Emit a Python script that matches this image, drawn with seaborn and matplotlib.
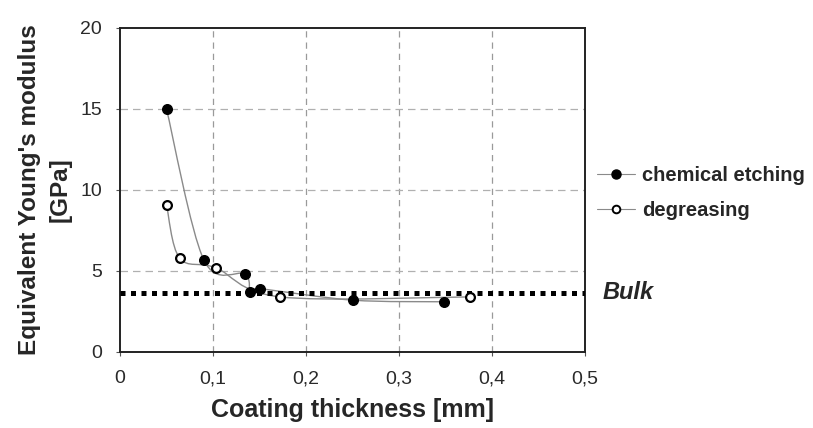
import numpy as np
import pandas as pd
import matplotlib
matplotlib.use("Agg")
import matplotlib.pyplot as plt
from matplotlib.path import Path
from matplotlib.patches import PathPatch
from matplotlib.lines import Line2D
import seaborn as sns

# Measured equivalent Young's modulus vs coating thickness
etch_x = [0.050, 0.090, 0.134, 0.140, 0.150, 0.250, 0.348]
etch_y = [15.0, 5.7, 4.8, 3.7, 3.9, 3.2, 3.1]
degr_x = [0.050, 0.064, 0.103, 0.172, 0.376]
degr_y = [9.1, 5.8, 5.2, 3.4, 3.4]
bulk_value = 3.66

x_ticks = [0, 0.1, 0.2, 0.3, 0.4, 0.5]
x_tick_labels = ["0", "0,1", "0,2", "0,3", "0,4", "0,5"]
y_ticks = [0, 5, 10, 15, 20]

sns.set_style("white")
plt.rcParams["font.family"] = ["Liberation Sans", "DejaVu Sans"]

fig = plt.figure(figsize=(8.13, 4.28), dpi=100)
ax = fig.add_axes([0.1476, 0.1776, 0.572, 0.757])


def smooth_path(xs, ys):
    """Smoothed curve through the points (Catmull-Rom as cubic Beziers)."""
    pts = np.column_stack([xs, ys]).astype(float)
    n = len(pts)
    verts = [pts[0]]
    codes = [Path.MOVETO]
    for i in range(n - 1):
        p_prev = pts[max(i - 1, 0)]
        p_next = pts[min(i + 2, n - 1)]
        c1 = pts[i] + (pts[i + 1] - p_prev) / 6.0
        c2 = pts[i + 1] - (p_next - pts[i]) / 6.0
        verts += [c1, c2, pts[i + 1]]
        codes += [Path.CURVE4] * 3
    return Path(verts, codes)


curve_color = "#8a8a8a"
for xs, ys in [(etch_x, etch_y), (degr_x, degr_y)]:
    ax.add_patch(PathPatch(smooth_path(xs, ys), facecolor="none",
                           edgecolor=curve_color, lw=1.0, zorder=2))

etch_df = pd.DataFrame({"x": etch_x, "y": etch_y})
degr_df = pd.DataFrame({"x": degr_x, "y": degr_y})
sns.scatterplot(data=etch_df, x="x", y="y", ax=ax, s=48, color="black",
                edgecolor="black", linewidth=1.0, zorder=4)
sns.scatterplot(data=degr_df, x="x", y="y", ax=ax, s=40, color="white",
                edgecolor="black", linewidth=1.6, zorder=4)

# Bulk reference level
ax.axhline(bulk_value, color="black", lw=3.6, linestyle=(0, (1, 1.1)),
           zorder=3)
ax.text(1.037, bulk_value, "Bulk", transform=ax.get_yaxis_transform(),
        fontsize=17, fontweight="bold", fontstyle="italic",
        va="center", ha="left", clip_on=False)

ax.set_xlim(0, 0.5)
ax.set_ylim(0, 20)
ax.set_xticks(x_ticks)
ax.set_xticklabels(x_tick_labels)
ax.set_yticks(y_ticks)
ax.tick_params(axis="both", labelsize=14, length=3, width=0.8,
               direction="out", color="#555555", bottom=True, left=True,
               labelcolor="#2a2a2a")
ax.tick_params(axis="x", pad=10)
ax.tick_params(axis="y", pad=10)

for xv in x_ticks[1:-1]:
    ax.axvline(xv, color="#9a9a9a", lw=0.9, linestyle=(0, (5, 4)), zorder=1)
for yv in y_ticks[1:-1]:
    ax.axhline(yv, color="#b0b0b0", lw=0.9, linestyle=(0, (6, 4)), zorder=1)

for sp in ax.spines.values():
    sp.set_visible(True)
    sp.set_color("#222222")
    sp.set_linewidth(1.4)

ax.set_xlabel("Coating thickness [mm]", fontsize=18, fontweight="bold",
              labelpad=8)
ax.set_ylabel("Equivalent Young's modulus\n[GPa]", fontsize=17.5,
              fontweight="bold", labelpad=6, linespacing=1.45)

handles = [
    Line2D([0], [0], color=curve_color, lw=0.8, marker="o", markersize=6.5,
           markerfacecolor="black", markeredgecolor="black"),
    Line2D([0], [0], color=curve_color, lw=0.8, marker="o", markersize=5.5,
           markerfacecolor="white", markeredgecolor="black",
           markeredgewidth=1.4),
]
fig.legend(handles, ["chemical etching", "degreasing"],
           loc="upper left", bbox_to_anchor=(0.712, 0.655),
           frameon=False, handlelength=1.9,
           handletextpad=0.35, labelspacing=0.8,
           prop={"weight": "bold", "size": 14.5})

fig.savefig("out.png", dpi=100)
